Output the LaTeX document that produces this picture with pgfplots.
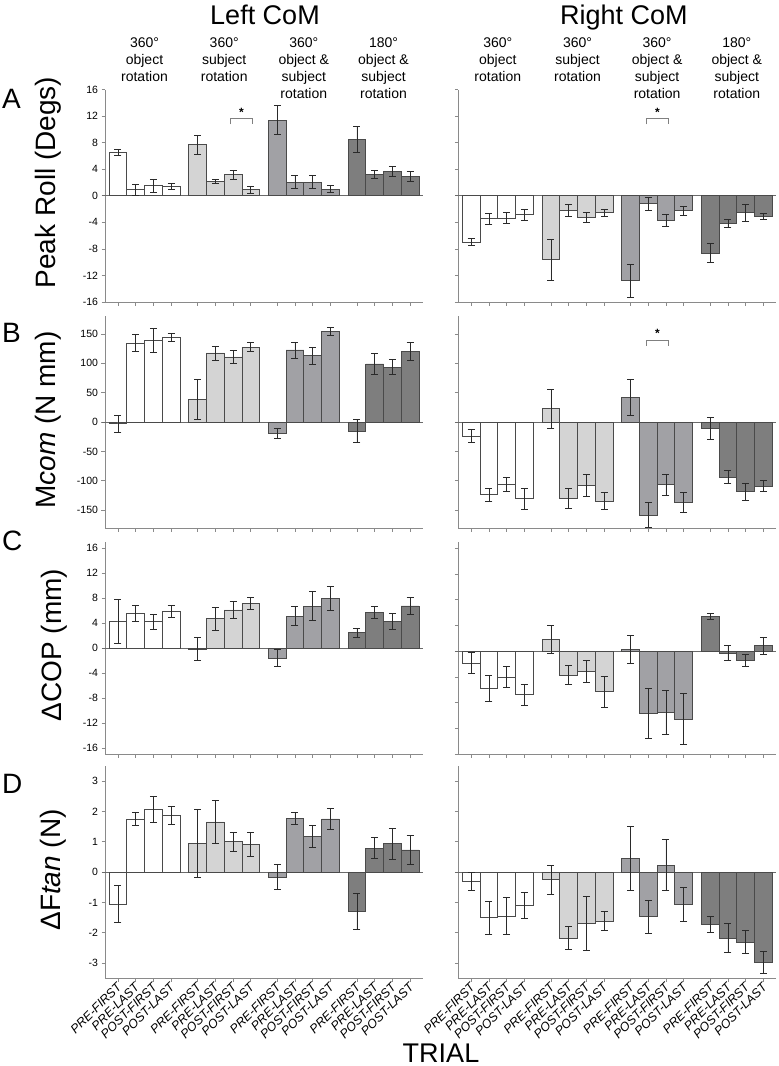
\documentclass[border=0pt]{standalone}
\usepackage{pgfplots}
\pgfplotsset{compat=1.18}
\usepackage{fontspec}
\setmainfont{Liberation Sans}
\definecolor{cA}{HTML}{FFFFFF}
\definecolor{cB}{HTML}{D4D4D4}
\definecolor{cC}{HTML}{A1A1A5}
\definecolor{cD}{HTML}{7E7E7E}
\definecolor{edgec}{HTML}{4A4A4A}
\definecolor{errc}{HTML}{2A2A2A}
\definecolor{axisc}{HTML}{8A8A8A}
\definecolor{zeroc}{HTML}{6A6A6A}
\newcommand{\bars}[2]{\addplot[ybar, bar shift=0pt, bar width=1, fill=#1, draw=edgec, line width=0.7pt,
  error bars/.cd, y dir=both, y explicit, error bar style={draw=errc, line width=0.8pt},
  error mark=|, error mark options={draw=errc, line width=0.8pt, mark size=3.5pt}]
  table[row sep=\\, x=x, y=y, y error=e]{x y e\\ #2};}
\newcommand{\zl}{\draw[draw=zeroc, line width=0.8pt] (axis cs:-0.9,0) -- (axis cs:17.23,0);}
\newcommand{\hfont}{\fontsize{14}{17}\selectfont}
\pgfplotsset{
  panel/.style={
    scale only axis, width=318pt, height=212.5pt,
    xmin=-0.73, xmax=17.23,
    axis lines*=left,
    axis line style={draw=axisc, line width=0.8pt},
    xtick={0,1,2,3,4.5,5.5,6.5,7.5,9,10,11,12,13.5,14.5,15.5,16.5},
    xticklabels={},
    tick style={draw=axisc, line width=0.7pt},
    tick align=outside,
    major tick length=3.5pt,
    yticklabel style={font=\fontsize{10.5}{12}\selectfont, text=black},
    /pgf/number format/assume math mode=true,
    clip=false,
  },
  bottomrow/.style={
    xticklabels={PRE-FIRST,PRE-LAST,POST-FIRST,POST-LAST,PRE-FIRST,PRE-LAST,POST-FIRST,POST-LAST,PRE-FIRST,PRE-LAST,POST-FIRST,POST-LAST,PRE-FIRST,PRE-LAST,POST-FIRST,POST-LAST},
    xticklabel style={rotate=45, anchor=east, font=\fontsize{12.5}{14}\selectfont\itshape, inner sep=1pt, yshift=-3pt},
  },
}
\newcommand{\sig}[4]{\draw[draw=gray, line width=0.7pt] (axis cs:#1,#4) -- (axis cs:#1,#3) -- (axis cs:#2,#3) -- (axis cs:#2,#4);}
\begin{document}
\begin{tikzpicture}
\useasboundingbox (0,0) rectangle (779pt,-1066pt);

% ---------------- headers
\node[font=\fontsize{27}{30}\selectfont, anchor=base] at (265pt,-24pt) {Left CoM};
\node[font=\fontsize{27}{30}\selectfont, anchor=base] at (624pt,-24pt) {Right CoM};
\foreach \cx in {144.5,497.8}{
  \node[font=\hfont, anchor=base] at (\cx pt,-47pt) {360°};
  \node[font=\hfont, anchor=base] at (\cx pt,-64pt) {object};
  \node[font=\hfont, anchor=base] at (\cx pt,-81pt) {rotation};
}
\foreach \cx in {224.2,577.5}{
  \node[font=\hfont, anchor=base] at (\cx pt,-47pt) {360°};
  \node[font=\hfont, anchor=base] at (\cx pt,-64pt) {subject};
  \node[font=\hfont, anchor=base] at (\cx pt,-81pt) {rotation};
}
\foreach \cx/\dg in {303.8/360°,383.5/180°,657.1/360°,736.8/180°}{
  \node[font=\hfont, anchor=base] at (\cx pt,-47pt) {\dg};
  \node[font=\hfont, anchor=base] at (\cx pt,-64pt) {object \&};
  \node[font=\hfont, anchor=base] at (\cx pt,-81pt) {subject};
  \node[font=\hfont, anchor=base] at (\cx pt,-98pt) {rotation};
}

% ---------------- panel letters and y labels
\node[font=\fontsize{28}{30}\selectfont, anchor=base west, inner sep=0pt] at (2pt,-108pt) {A};
\node[font=\fontsize{28}{30}\selectfont, anchor=base west, inner sep=0pt] at (2pt,-342pt) {B};
\node[font=\fontsize{28}{30}\selectfont, anchor=base west, inner sep=0pt] at (2pt,-550pt) {C};
\node[font=\fontsize{28}{30}\selectfont, anchor=base west, inner sep=0pt] at (2pt,-793pt) {D};
\node[font=\fontsize{28}{30}\selectfont, rotate=90, anchor=base, inner sep=0pt] at (55pt,-182.5pt) {Peak Roll (Degs)};
\node[font=\fontsize{28}{30}\selectfont, rotate=90, anchor=base, inner sep=0pt] at (55pt,-420pt) {M\textit{com} (N mm)};
\node[font=\fontsize{28}{30}\selectfont, rotate=90, anchor=base, inner sep=0pt] at (61pt,-645pt) {ΔCOP (mm)};
\node[font=\fontsize{28}{30}\selectfont, rotate=90, anchor=base, inner sep=0pt] at (60pt,-870pt) {ΔF\textit{tan} (N)};
\node[font=\fontsize{27}{30}\selectfont, anchor=base, inner sep=0pt] at (441pt,-1062pt) {TRIAL};

% ================= ROW A
\begin{axis}[panel, at={(105pt,-302pt)}, anchor=south west, ymin=-16, ymax=16, ytick={-16,-12,...,16}]
\zl
\bars{cA}{0 6.6 0.45\\ 1 0.9 0.8\\ 2 1.5 1.0\\ 3 1.4 0.45\\}
\bars{cB}{4.5 7.7 1.45\\ 5.5 2.1 0.3\\ 6.5 3.15 0.7\\ 7.5 0.9 0.5\\}
\bars{cC}{9 11.4 2.15\\ 10 2.05 0.95\\ 11 2.05 0.95\\ 12 1.0 0.55\\}
\bars{cD}{13.5 8.5 1.95\\ 14.5 3.15 0.6\\ 15.5 3.65 0.8\\ 16.5 2.9 0.7\\}
\sig{6.35}{7.6}{11.7}{10.75}
\node[font=\fontsize{12}{12}\selectfont\bfseries] at (axis cs:6.98,12.5) {*};
\end{axis}
\begin{axis}[panel, at={(458.3pt,-302pt)}, anchor=south west, ymin=-16, ymax=16, ytick={-16,-12,...,16}, yticklabels={}]
\zl
\bars{cA}{0 -6.95 0.6\\ 1 -3.45 0.85\\ 2 -3.35 0.8\\ 3 -2.85 0.85\\}
\bars{cB}{4.5 -9.65 3.1\\ 5.5 -2.2 0.9\\ 6.5 -3.2 0.75\\ 7.5 -2.55 0.5\\}
\bars{cC}{9 -12.8 2.45\\ 10 -1.2 1.0\\ 11 -3.7 0.9\\ 12 -2.25 0.7\\}
\bars{cD}{13.5 -8.6 1.5\\ 14.5 -4.15 0.65\\ 15.5 -2.55 1.25\\ 16.5 -3.15 0.45\\}
\sig{9.9}{11.15}{11.7}{10.75}
\node[font=\fontsize{12}{12}\selectfont\bfseries] at (axis cs:10.52,12.6) {*};
\end{axis}

% ================= ROW B
\begin{axis}[panel, at={(105pt,-528.3pt)}, anchor=south west, ymin=-181, ymax=181, ytick={-150,-100,...,150}]
\zl
\bars{cA}{0 -3 15\\ 1 134.7 15\\ 2 139.8 20.5\\ 3 144.3 7.4\\}
\bars{cB}{4.5 38.5 33.4\\ 5.5 117.7 12\\ 6.5 111 10.5\\ 7.5 127.3 7.6\\}
\bars{cC}{9 -19.8 8.2\\ 10 122.8 13.6\\ 11 113.2 14.7\\ 12 154.5 7.4\\}
\bars{cD}{13.5 -15.3 19.2\\ 14.5 99 17.5\\ 15.5 93.4 13\\ 16.5 120.5 15.6\\}
\end{axis}
\begin{axis}[panel, at={(458.3pt,-528.3pt)}, anchor=south west, ymin=-181, ymax=181, ytick={-150,-100,...,150}, yticklabels={}]
\zl
\bars{cA}{0 -24.3 11\\ 1 -124 11.3\\ 2 -106.4 11.3\\ 3 -130.2 18\\}
\bars{cB}{4.5 22.6 33.4\\ 5.5 -130.2 16.4\\ 6.5 -107.5 18.4\\ 7.5 -134.7 14.7\\}
\bars{cC}{9 42.4 31\\ 10 -158.5 21\\ 11 -106.4 17.8\\ 12 -137 16.4\\}
\bars{cD}{13.5 -11.3 18.7\\ 14.5 -93.4 11.6\\ 15.5 -118.8 14.4\\ 16.5 -108.7 9\\}
\sig{9.9}{11.15}{139.8}{129.6}
\node[font=\fontsize{12}{12}\selectfont\bfseries] at (axis cs:10.52,151) {*};
\end{axis}

% ================= ROW C
\begin{axis}[panel, at={(105pt,-754.3pt)}, anchor=south west, ymin=-17, ymax=17, ytick={-16,-12,...,16}]
\zl
\bars{cA}{0 4.3 3.5\\ 1 5.55 1.3\\ 2 4.25 1.2\\ 3 5.9 0.95\\}
\bars{cB}{4.5 -0.15 1.8\\ 5.5 4.7 1.85\\ 6.5 6.1 1.35\\ 7.5 7.15 0.9\\}
\bars{cC}{9 -1.6 1.35\\ 10 5.1 1.5\\ 11 6.7 2.35\\ 12 8.0 1.9\\}
\bars{cD}{13.5 2.45 0.75\\ 14.5 5.65 0.95\\ 15.5 4.3 1.25\\ 16.5 6.75 1.35\\}
\end{axis}
\begin{axis}[panel, at={(458.3pt,-754.3pt)}, anchor=south west, ymin=-16, ymax=17, ytick={-16,-12,...,16}, yticklabels={}]
\zl
\bars{cA}{0 -1.8 1.7\\ 1 -5.8 2.05\\ 2 -4.0 1.6\\ 3 -6.75 1.65\\}
\bars{cB}{4.5 1.85 2.2\\ 5.5 -3.7 1.45\\ 6.5 -3.1 1.7\\ 7.5 -6.3 2.45\\}
\bars{cC}{9 0.25 2.2\\ 10 -9.65 3.85\\ 11 -9.5 3.45\\ 12 -10.5 3.95\\}
\bars{cD}{13.5 5.35 0.47\\ 14.5 -0.25 1.2\\ 15.5 -1.45 0.95\\ 16.5 0.85 1.35\\}
\end{axis}

% ================= ROW D
\begin{axis}[panel, bottomrow, at={(105pt,-978.3pt)}, anchor=south west, ymin=-3.5, ymax=3.5, ytick={-3,-2,...,3}]
\zl
\bars{cA}{0 -1.05 0.61\\ 1 1.75 0.2\\ 2 2.05 0.43\\ 3 1.87 0.29\\}
\bars{cB}{4.5 0.95 1.13\\ 5.5 1.65 0.72\\ 6.5 1.0 0.32\\ 7.5 0.9 0.4\\}
\bars{cC}{9 -0.16 0.42\\ 10 1.77 0.21\\ 11 1.18 0.36\\ 12 1.75 0.34\\}
\bars{cD}{13.5 -1.29 0.6\\ 14.5 0.79 0.34\\ 15.5 0.93 0.5\\ 16.5 0.73 0.47\\}
\end{axis}
\begin{axis}[panel, bottomrow, at={(458.3pt,-978.3pt)}, anchor=south west, ymin=-3.5, ymax=3.5, ytick={-3,-2,...,3}, yticklabels={}]
\zl
\bars{cA}{0 -0.31 0.29\\ 1 -1.5 0.54\\ 2 -1.45 0.6\\ 3 -1.1 0.43\\}
\bars{cB}{4.5 -0.25 0.48\\ 5.5 -2.17 0.39\\ 6.5 -1.7 0.89\\ 7.5 -1.62 0.31\\}
\bars{cC}{9 0.46 1.06\\ 10 -1.47 0.55\\ 11 0.23 0.83\\ 12 -1.05 0.56\\}
\bars{cD}{13.5 -1.73 0.27\\ 14.5 -2.17 0.49\\ 15.5 -2.3 0.38\\ 16.5 -2.97 0.37\\}
\end{axis}
\end{tikzpicture}
\end{document}
